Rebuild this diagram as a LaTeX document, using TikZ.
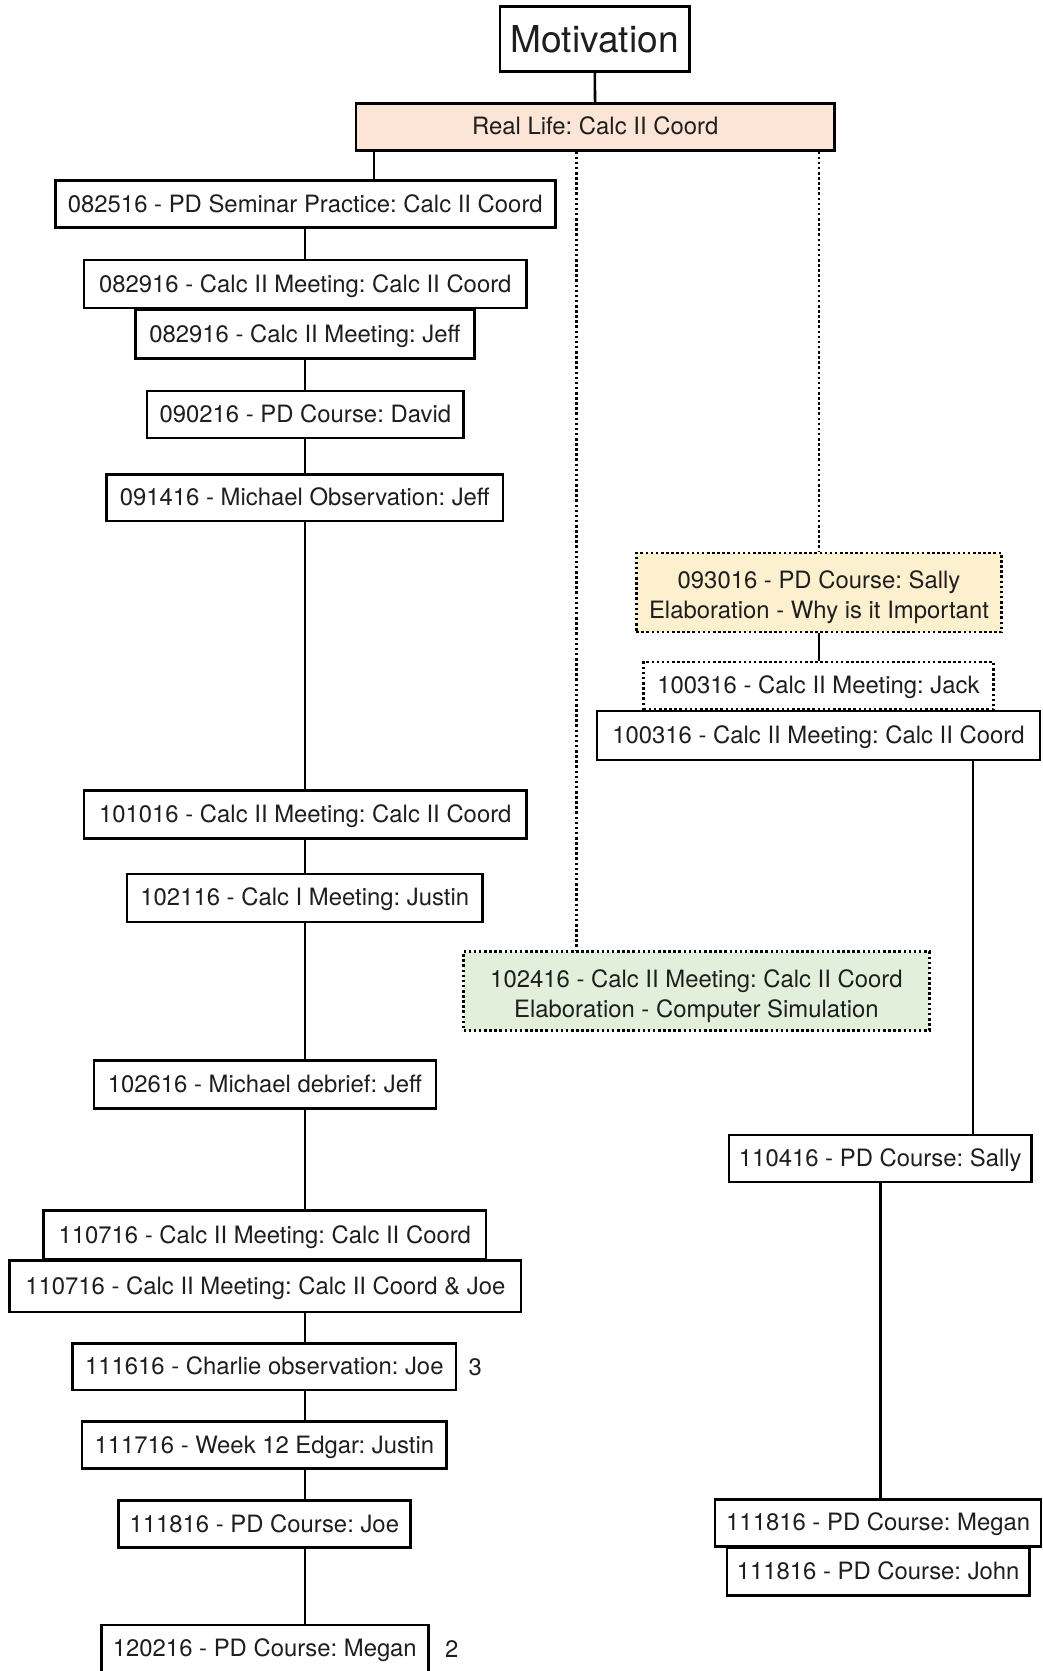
\documentclass[tikz,border=0pt]{standalone}
\usepackage{fontspec}
\setmainfont{TeX Gyre Heros}
\frenchspacing
\definecolor{txt}{HTML}{1E1E1E}
\definecolor{reallife}{HTML}{FCE4D6}
\definecolor{elabyellow}{HTML}{FDF0CF}
\definecolor{elabgreen}{HTML}{E2EFDA}
\tikzset{
  box/.style={draw=black, line width=1.2pt, text=txt, inner sep=0pt,
    minimum height=22pt, text height=10pt, text depth=2.4pt,
    align=center, font=\fontsize{11.2}{14}\selectfont},
  dotbox/.style={box, dash pattern=on 1.2pt off 1.2pt},
  twoline/.style={minimum height=37pt, text height=27pt},
  link/.style={line width=1.2pt},
  dotlink/.style={line width=1.2pt, dash pattern=on 1.2pt off 1.2pt},
}
\begin{document}
\begin{tikzpicture}[x=0.5pt,y=-0.5pt]
\useasboundingbox (0,0) rectangle (978,1568);
\node [box, minimum width=89pt, minimum height=30.5pt, text height=12.5pt, text depth=0pt, font=\fontsize{17.4}{20}\selectfont] (mot) at (558,36.5) {Motivation};
\node [box, fill=reallife, minimum width=224.5pt] (rl) at (558.5,119) {Real Life: Calc II Coord};
% left column
\coordinate (spine) at (286,0);
\node [box, minimum width=234.5pt] (n1) at (286.5,191.5) {082516 - PD Seminar Practice: Calc II Coord};
\node [box, minimum width=207.5pt, minimum height=22.5pt] (n2) at (286.5,266.5) {082916 - Calc II Meeting: Calc II Coord};
\node [box, minimum width=159pt, minimum height=23pt] (n3) at (286,313.5) {082916 - Calc II Meeting: Jeff};
\node [box, minimum width=148.5pt] (n4) at (286.5,389) {090216 - PD Course: David};
\node [box, minimum width=186pt] (n5) at (286,467) {091416 - Michael Observation: Jeff};
\node [box, minimum width=207.5pt, minimum height=22.5pt] (n6) at (286.5,764.5) {101016 - Calc II Meeting: Calc II Coord};
\node [box, minimum width=167pt, minimum height=22.5pt] (n7) at (286,842.5) {102116 - Calc I Meeting: Justin};
\node [box, minimum width=160.5pt, minimum height=22.5pt] (n8) at (248.5,1017.5) {102616 - Michael debrief: Jeff};
\node [box, minimum width=207.5pt, minimum height=23pt] (n9) at (248.5,1159) {110716 - Calc II Meeting: Calc II Coord};
\node [box, minimum width=240pt, minimum height=24pt] (n10) at (249,1207) {110716 - Calc II Meeting: Calc II Coord \& Joe};
\node [box, minimum width=180pt] (n11) at (248,1282.5) {111616 - Charlie observation: Joe};
\node [box, minimum width=171pt] (n12) at (248,1356) {111716 - Week 12 Edgar: Justin};
\node [box, minimum width=137pt] (n13) at (248,1430) {111816 - PD Course: Joe};
\node [box, minimum width=153.5pt] (n14) at (248.5,1547) {120216 - PD Course: Megan};
\node [text=txt, font=\fontsize{11.2}{14}\selectfont] (c3) at (446,1282.5) {3};
\node [text=txt, font=\fontsize{11.2}{14}\selectfont] (c2) at (424,1547) {2};
% right column
\node [dotbox, twoline, fill=elabyellow, minimum width=171.5pt] (r1) at (768.5,556) {093016 - PD Course: Sally\\Elaboration - Why is it Important};
\node [dotbox, fill=white, minimum width=164pt, minimum height=22.5pt] (r2) at (768,643.5) {100316 - Calc II Meeting: Jack};
\node [box, minimum width=208pt, minimum height=23pt] (r3) at (768,690) {100316 - Calc II Meeting: Calc II Coord};
\node [dotbox, twoline, fill=elabgreen, minimum width=218.5pt] (g1) at (653.5,930) {102416 - Calc II Meeting: Calc II Coord\\Elaboration - Computer Simulation};
\node [box, minimum width=142pt] (r4) at (826,1087) {110416 - PD Course: Sally};
\node [box, minimum width=153pt] (r5) at (824,1429) {111816 - PD Course: Megan};
\node [box, minimum width=142pt, minimum height=22.5pt] (r6) at (824,1474.5) {111816 - PD Course: John};
% connectors
\draw [link] (mot) -- (rl);
\draw [link] ([xshift=9pt]rl.south west) -- ([xshift=9pt]rl.south west |- n1.north);
\draw [dotlink] ([xshift=-8.75pt]rl.south) -- ([xshift=-8.75pt]rl.south |- g1.north);
\draw [dotlink] (r1.north |- rl.south) -- (r1.north);
\draw [link] (spine |- n1.south) -- (spine |- n2.north);
\draw [link] (spine |- n3.south) -- (spine |- n4.north);
\draw [link] (spine |- n4.south) -- (spine |- n5.north);
\draw [link] (spine |- n5.south) -- (spine |- n6.north);
\draw [link] (spine |- n6.south) -- (spine |- n7.north);
\draw [link] (spine |- n7.south) -- (spine |- n8.north);
\draw [link] (spine |- n8.south) -- (spine |- n9.north);
\draw [link] (spine |- n10.south) -- (spine |- n11.north);
\draw [link] (spine |- n11.south) -- (spine |- n12.north);
\draw [link] (spine |- n12.south) -- (spine |- n13.north);
\draw [link] (spine |- n13.south) -- (spine |- n14.north);
\draw [link] (r1.south) -- (r1.south |- r2.north);
\draw [link] ([xshift=-32pt]r3.south east) -- ([xshift=-32pt]r3.south east |- r4.north);
\draw [link] (r4.south) -- (r4.south |- r5.north);
\end{tikzpicture}
\end{document}
